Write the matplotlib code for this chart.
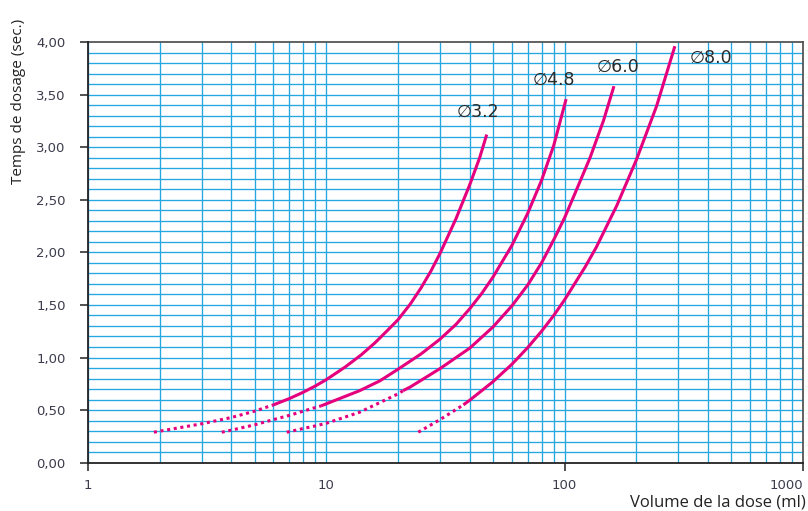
import numpy as np
import matplotlib.pyplot as plt
from matplotlib.ticker import FixedLocator, NullFormatter

# curve data: (dotted part, solid part) per nozzle diameter
d32_dot_x = [1.89, 2, 3, 4, 5, 6]
d32_dot_y = [0.29, 0.30, 0.37, 0.43, 0.49, 0.55]
d32_x = [6, 7, 8, 9, 10, 12, 14, 16, 18, 20, 22.5, 25, 27.5, 30, 35, 40, 44, 47.1]
d32_y = [0.55, 0.61, 0.67, 0.73, 0.79, 0.91, 1.025, 1.14, 1.255, 1.36, 1.508, 1.664,
         1.824, 1.99, 2.32, 2.645, 2.90, 3.12]

d48_dot_x = [3.64, 4, 5, 6, 7, 8, 9, 9.5]
d48_dot_y = [0.29, 0.31, 0.36, 0.41, 0.45, 0.49, 0.525, 0.54]
d48_x = [9.5, 10, 13.8, 16.8, 20, 25, 30, 35, 40, 45, 50, 60, 70, 80, 90, 101.4]
d48_y = [0.54, 0.56, 0.685, 0.779, 0.889, 1.035, 1.175, 1.315, 1.465, 1.613, 1.764,
         2.064, 2.372, 2.685, 3.017, 3.457]

d60_dot_x = [6.82, 8, 9, 10, 13.8, 20, 21]
d60_dot_y = [0.29, 0.325, 0.35, 0.375, 0.48, 0.655, 0.685]
d60_x = [21, 22.5, 30, 40, 50, 60, 70, 80, 90, 100, 110, 127.8, 145.4, 161]
d60_y = [0.685, 0.72, 0.895, 1.09, 1.29, 1.49, 1.69, 1.90, 2.12, 2.33, 2.55, 2.90, 3.25, 3.58]

d80_dot_x = [24.3, 30, 37.6]
d80_dot_y = [0.29, 0.41, 0.55]
d80_x = [37.6, 40, 50, 60, 70, 80, 90, 100, 121.8, 135.5, 165.5, 200, 243, 290]
d80_y = [0.55, 0.595, 0.77, 0.935, 1.095, 1.25, 1.40, 1.55, 1.86, 2.045, 2.445, 2.88, 3.39, 3.96]

labels = ['\u22053.2', '\u22054.8', '\u22056.0', '\u22058.0']
label_x = [43.3, 90.3, 167.5, 413]
label_y = [3.34, 3.64, 3.76, 3.85]

xticks = [1, 10, 100, 1000]
xticklabels = ['1', '10', '100', '1000']
yticks = [0, 0.5, 1, 1.5, 2, 2.5, 3, 3.5, 4]
yticklabels = ['0,00', '0,50', '1,00', '1,50', '2,00', '2,50', '3,00', '3,50', '4,00']

grid_c = '#22a7e0'
curve_c = '#e5007d'
text_c = '#3c3c4c'

fig = plt.figure(figsize=(8.08, 5.11), dpi=100)
ax = fig.add_axes([0.1089, 0.0945, 0.8849, 0.8233])
ax.set_xscale('log')
ax.set_xlim(1, 1000)
ax.set_ylim(0, 4)

# blue grid paper
vgrid = [m * 10**k for k in range(3) for m in range(1, 10)] + [1000]
for v in vgrid:
    ax.axvline(v, color=grid_c, lw=0.95, zorder=1)
for h in np.arange(0.1, 4.0, 0.1):
    ax.axhline(h, color=grid_c, lw=0.95, zorder=1)

dots = (0, (1, 1.2))
curves = [(d32_dot_x, d32_dot_y, d32_x, d32_y),
          (d48_dot_x, d48_dot_y, d48_x, d48_y),
          (d60_dot_x, d60_dot_y, d60_x, d60_y),
          (d80_dot_x, d80_dot_y, d80_x, d80_y)]
for dx, dy, sx, sy in curves:
    ax.plot(dx, dy, color=curve_c, lw=2.2, linestyle=dots, zorder=3)
    ax.plot(sx, sy, color=curve_c, lw=2.2, solid_capstyle='butt',
            solid_joinstyle='round', zorder=3)

for t, lx, ly in zip(labels, label_x, label_y):
    ax.text(lx, ly, t, ha='center', va='center', fontsize=12.5, color='#2a2a2a', zorder=4)

ax.set_xticks(xticks)
ax.set_xticklabels(xticklabels)
ax.xaxis.set_minor_locator(FixedLocator([]))
ax.xaxis.set_minor_formatter(NullFormatter())
ax.set_yticks(yticks)
ax.set_yticklabels(yticklabels)
ax.tick_params(axis='both', direction='out', length=6, width=1.1, colors='#222222',
               labelcolor=text_c, labelsize=9.5)
ax.tick_params(axis='x', pad=6)
ax.tick_params(axis='y', pad=10)
ax.xaxis.get_major_ticks()[1].tick1line.set_visible(False)
ax.get_xticklabels()[-1].set_horizontalalignment('right')

for s in ['left', 'bottom']:
    ax.spines[s].set_color('#222222')
    ax.spines[s].set_linewidth(1.3)
for s in ['top', 'right']:
    ax.spines[s].set_color('#555555')
    ax.spines[s].set_linewidth(1.3)
ax.spines['left'].set_zorder(5)
ax.spines['bottom'].set_zorder(5)

fig.text(0.0235, 0.801, 'Temps de dosage (sec.)', rotation=90, ha='center', va='center',
         fontsize=11, family='Open Sans', color='#222222')
fig.text(0.997, 0.009, 'Volume de la dose (ml)', ha='right', va='baseline',
         fontsize=12, family='Open Sans', color='#222222')

fig.savefig('out.png', dpi=100)
